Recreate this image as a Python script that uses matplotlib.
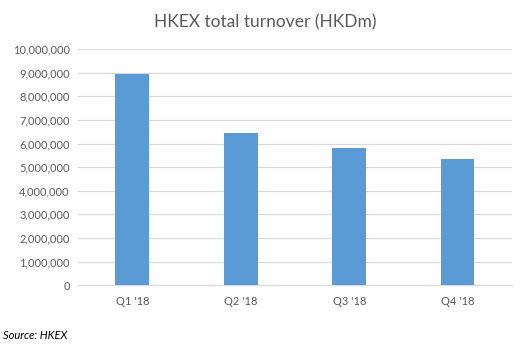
import matplotlib
matplotlib.use("Agg")
import matplotlib.pyplot as plt
from matplotlib.ticker import FuncFormatter

quarters = ["Q1 '18", "Q2 '18", "Q3 '18", "Q4 '18"]
turnover = [8950000, 6450000, 5810000, 5350000]

plt.rcParams['font.family'] = ['Lato', 'DejaVu Sans']

fig = plt.figure(figsize=(5.31, 3.46), dpi=100)
ax = fig.add_axes([0.147, 0.176, 0.817, 0.682])

ax.bar(range(len(quarters)), turnover, width=0.31, color='#5B9BD5', zorder=3)

ax.set_xlim(-0.5, len(quarters) - 0.5)
ax.set_ylim(0, 10000000)
ax.set_yticks(range(0, 10000001, 1000000))
ax.yaxis.set_major_formatter(FuncFormatter(lambda v, p: f"{int(v):,}"))
ax.set_xticks(range(len(quarters)))
ax.set_xticklabels(quarters)

ax.grid(axis='y', color='#D9D9D9', linewidth=0.9, zorder=0)
for s in ['top', 'right', 'left']:
    ax.spines[s].set_visible(False)
ax.spines['bottom'].set_color('#D9D9D9')
ax.tick_params(axis='both', length=0, labelsize=8, labelcolor='#595959')
ax.tick_params(axis='x', pad=8)
ax.tick_params(axis='y', pad=6)

fig.text(0.5, 0.935, "HKEX total turnover (HKDm)", ha='center', va='center',
         fontsize=12.5, color='#595959')
fig.text(0.006, 0.03, "Source: HKEX", ha='left', va='center',
         fontsize=8, style='italic', color='#000000')

fig.savefig("out.png", dpi=100)
